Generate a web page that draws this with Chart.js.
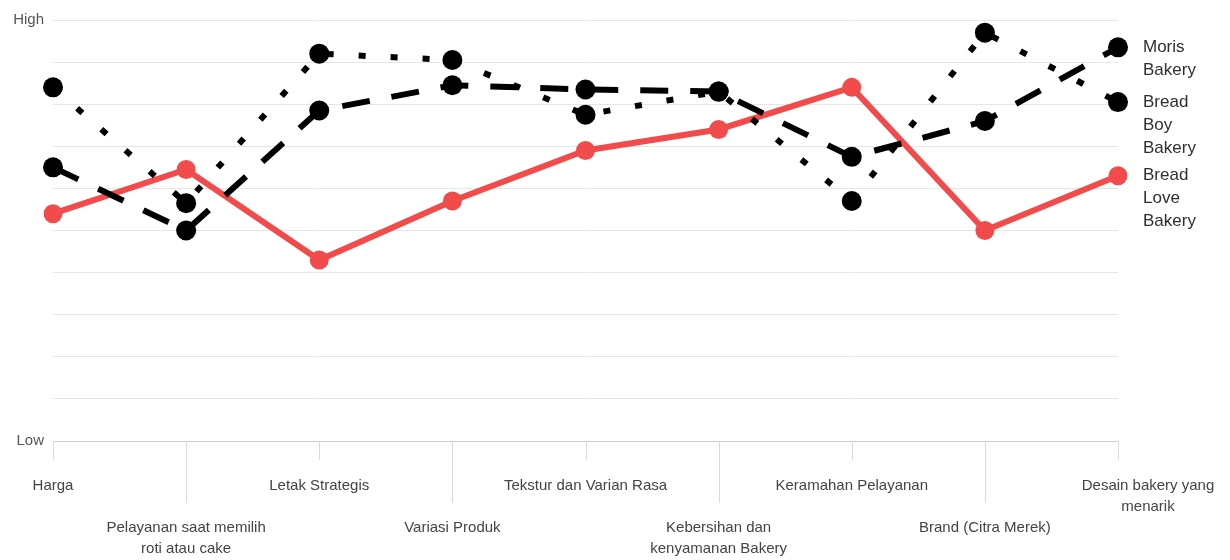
<!DOCTYPE html>
<html>
<head>
<meta charset="utf-8">
<script src="https://cdn.jsdelivr.net/npm/chart.js@4"></script>
<style>
  body { margin: 0; background: #fff; }
</style>
</head>
<body>
<canvas id="bakeryChart" width="1230" height="560"></canvas>
<script>
const categories = [
  "Harga",
  "Pelayanan saat memilih\nroti atau cake",
  "Letak Strategis",
  "Variasi Produk",
  "Tekstur dan Varian Rasa",
  "Kebersihan dan\nkenyamanan Bakery",
  "Keramahan Pelayanan",
  "Brand (Citra Merek)",
  "Desain bakery yang\nmenarik",
];
const seriesNames = ["Moris Bakery", "Bread Boy Bakery", "Bread Love Bakery"];
const morisBakery = [6.5, 5.0, 7.85, 8.45, 8.35, 8.3, 6.75, 7.6, 9.35];
const breadBoyBakery = [8.4, 5.65, 9.2, 9.05, 7.75, 8.3, 5.7, 9.7, 8.05];
const breadLoveBakery = [5.4, 6.45, 4.3, 5.7, 6.9, 7.4, 8.4, 5.0, 6.3];
const yMin = 0;
const yMax = 10;
const yTickLabels = ["Low", "High"];

const FONT = "Arial, 'Liberation Sans', sans-serif";

// staggered tick marks under the x axis, long ones for the second row
const tickMarks = {
  id: "tickMarks",
  afterDraw(chart) {
    const { ctx, scales, chartArea } = chart;
    const x = scales.x;
    ctx.save();
    ctx.strokeStyle = "#d5dce3";
    ctx.lineWidth = 1;
    categories.forEach((c, i) => {
      const px = Math.round(x.getPixelForValue(i)) + 0.5;
      ctx.beginPath();
      ctx.moveTo(px, chartArea.bottom);
      ctx.lineTo(px, chartArea.bottom + (i % 2 ? 62 : 19));
      ctx.stroke();
    });
    ctx.restore();
  },
};

// series names written next to the last point of each line
const endLabels = {
  id: "endLabels",
  afterDatasetsDraw(chart) {
    const { ctx, chartArea } = chart;
    ctx.save();
    ctx.font = "17px " + FONT;
    ctx.fillStyle = "#2f2f2f";
    ctx.textBaseline = "middle";
    chart.data.datasets.forEach((ds, i) => {
      const meta = chart.getDatasetMeta(i);
      const last = meta.data[meta.data.length - 1];
      ds.label.split(" ").forEach((word, j) => {
        ctx.fillText(word, chartArea.right + 25, last.y + j * 23);
      });
    });
    ctx.restore();
  },
};

const ctx = document.getElementById("bakeryChart").getContext("2d");
new Chart(ctx, {
  type: "line",
  data: {
    labels: categories,
    datasets: [
      {
        label: seriesNames[0],
        data: morisBakery,
        borderColor: "#000",
        backgroundColor: "#000",
        borderWidth: 6,
        borderDash: [28, 22],
        pointRadius: 10,
        pointBorderWidth: 0,
      },
      {
        label: seriesNames[1],
        data: breadBoyBakery,
        borderColor: "#000",
        backgroundColor: "#000",
        borderWidth: 6,
        borderDash: [7, 25],
        pointRadius: 10,
        pointBorderWidth: 0,
      },
      {
        label: seriesNames[2],
        data: breadLoveBakery,
        borderColor: "#f24b4b",
        backgroundColor: "#f24b4b",
        borderWidth: 6,
        pointRadius: 9.5,
        pointBorderWidth: 0,
      },
    ],
  },
  options: {
    responsive: false,
    animation: false,
    devicePixelRatio: 1,
    layout: { padding: { top: 20, right: 112, left: 0, bottom: 0 } },
    plugins: {
      legend: { display: false },
      tooltip: { enabled: false },
    },
    elements: { line: { tension: 0 } },
    scales: {
      x: {
        offset: false,
        grid: { display: false, drawTicks: false },
        border: { display: false },
        ticks: {
          autoSkip: false,
          maxRotation: 0,
          minRotation: 0,
          padding: 34,
          color: "#444",
          font: { family: FONT, size: 15, lineHeight: "21px" },
          callback: (value, i) => {
            let lines = categories[i].split("\n");
            // last label is nudged inwards like the original
            if (i === categories.length - 1) lines = lines.map((l) => "\u2002".repeat(8) + l);
            return i % 2 ? ["", ""].concat(lines) : lines;
          },
        },
        afterFit: (scale) => {
          scale.height = 119;
          scale.paddingLeft = 0;
          scale.paddingRight = 0;
        },
      },
      y: {
        min: yMin,
        max: yMax,
        grid: {
          drawTicks: false,
          color: (c) => (c.tick && c.tick.value === yMin ? "#cccccc" : "#e6e6e6"),
        },
        border: { display: false },
        ticks: {
          stepSize: 1,
          padding: 9,
          color: "#555",
          font: { family: FONT, size: 15 },
          callback: (v) => (v === yMin ? yTickLabels[0] : v === yMax ? yTickLabels[1] : ""),
        },
        afterFit: (scale) => {
          scale.width = 53;
        },
      },
    },
  },
  plugins: [tickMarks, endLabels],
});
</script>
</body>
</html>
